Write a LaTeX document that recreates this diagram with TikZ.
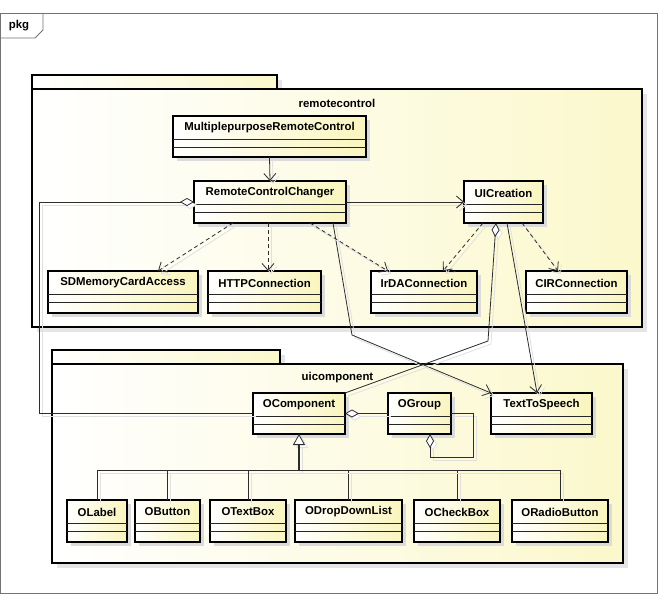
\documentclass[tikz,border=0pt]{standalone}
\usepackage{fontspec}
\setmainfont{Liberation Sans}
\usetikzlibrary{arrows.meta,shadows,calc}

\definecolor{clsyel}{RGB}{250,245,190}
\definecolor{pkgyel}{RGB}{251,248,204}
\definecolor{edgecol}{RGB}{45,45,45}

\tikzset{
  umlfont/.style={font=\bfseries\fontsize{11.4}{13}\selectfont, inner sep=0pt},
  clsbox/.style={draw=black, line width=1.5pt, left color=white, right color=clsyel,
    drop shadow={shadow xshift=4pt, shadow yshift=-4pt, fill=black!14, opacity=1},
    inner sep=0pt, outer sep=0pt},
  clssep/.style={draw=black!85, line width=0.9pt},
  pkgbox/.style={draw=black, line width=1.6pt, left color=white, right color=pkgyel,
    drop shadow={shadow xshift=5pt, shadow yshift=-5pt, fill=black!10, opacity=1},
    inner sep=0pt, outer sep=0pt},
  framebox/.style={draw=black!55, line width=0.8pt},
  link/.style={draw=edgecol, line width=0.8pt,
    preaction={draw=black!12, line width=0.8pt, transform canvas={shift={(3pt,-3pt)}}}},
  assoc/.style={link, -{Straight Barb[length=7pt,width=12pt,line width=0.8pt]}},
  dep/.style={assoc, dash pattern=on 4pt off 3pt},
  aggr/.style={link, {Diamond[fill=white,length=14pt,width=8pt,line width=0.8pt]}-},
  gen/.style={link, -{Triangle[fill=white,length=11pt,width=12pt,line width=0.8pt]}},
}

% class box: name, x1, y1, x2, y2, title
\newcommand\umlclass[6]{%
  \node[clsbox, anchor=north west, minimum width=#4-#2, minimum height=#5-#3] (#1) at (#2,#3) {};
  \draw[clssep] ($(#1.north west)+(0,23)$) -- ($(#1.north east)+(0,23)$);
  \draw[clssep] ($(#1.north west)+(0,31)$) -- ($(#1.north east)+(0,31)$);
  \node[umlfont] (#1-name) at ($(#1.north)+(0,12)$) {#6};
}

\begin{document}
\begin{tikzpicture}[x=1pt, y=-1pt]
  \useasboundingbox[fill=white] (0,0) rectangle (663,602);

  % diagram frame
  \draw[framebox] (0.5,13) rectangle (657,593);
  \draw[framebox] (0.5,38) -- (35,38) -- (43,30) -- (43,13);
  \node[umlfont] (frametag) at (19,26) {pkg};

  % package remotecontrol
  \node[pkgbox, anchor=north west, minimum width=245, minimum height=14] (rctab) at (32,75) {};
  \node[pkgbox, anchor=north west, minimum width=610, minimum height=238] (rcpkg) at (32,89) {};
  \node[umlfont] (rclabel) at (337,103) {remotecontrol};

  % package uicomponent
  \node[pkgbox, anchor=north west, minimum width=228, minimum height=14] (uitab) at (52,350) {};
  \node[pkgbox, anchor=north west, minimum width=571, minimum height=199] (uipkg) at (52,364) {};
  \node[umlfont] (uilabel) at (337.5,378) {uicomponent};

  % bend points
  \coordinate (rccleft) at (39,202);
  \coordinate (rccdown) at (352,335);
  \coordinate (uicdown) at (488,341);
  \coordinate (bus) at (299,470);

  % classes of remotecontrol
  \umlclass{mprc}{173}{116}{366}{157}{MultiplepurposeRemoteControl}
  \umlclass{rcc}{194}{181}{346}{223}{RemoteControlChanger}
  \umlclass{uic}{464}{181}{543}{223}{UICreation}
  \umlclass{sd}{48}{271}{198}{313}{SDMemoryCardAccess}
  \umlclass{http}{208}{271}{321}{313}{HTTPConnection}
  \umlclass{irda}{371}{271}{477}{313}{IrDAConnection}
  \umlclass{cir}{526}{271}{627}{313}{CIRConnection}

  % classes of uicomponent
  \umlclass{ocomp}{253}{393}{345}{434}{OComponent}
  \umlclass{ogroup}{388}{393}{451}{434}{OGroup}
  \umlclass{tts}{491}{393}{592}{434}{TextToSpeech}
  \umlclass{olabel}{67}{500}{127}{542}{OLabel}
  \umlclass{obutton}{135}{500}{200}{542}{OButton}
  \umlclass{otextbox}{210}{500}{286}{542}{OTextBox}
  \umlclass{odrop}{295}{500}{402}{542}{ODropDownList}
  \umlclass{ocheck}{414}{500}{500}{542}{OCheckBox}
  \umlclass{oradio}{512}{500}{608}{542}{ORadioButton}

  % associations
  \draw[assoc] (mprc.south) -- (rcc.north);
  \draw[assoc] (rcc.east) -- (uic.west);
  \draw[assoc] ([xshift=63pt]rcc.south) -- (rccdown) -- (tts.north west);
  \draw[assoc] ([xshift=3.5pt]uic.south) -- ([xshift=-4.5pt]tts.north);

  % dependencies
  \draw[dep] ([xshift=-37pt]rcc.south) -- ([xshift=35pt]sd.north);
  \draw[dep] ([xshift=-2pt]rcc.south) -- ([xshift=3.5pt]http.north);
  \draw[dep] ([xshift=40pt]rcc.south) -- ([xshift=-36pt]irda.north);
  \draw[dep] ([xshift=-20.5pt]uic.south) -- ([xshift=19pt]irda.north);
  \draw[dep] ([xshift=18.5pt]uic.south) -- ([xshift=-18.5pt]cir.north);

  % aggregations
  \draw[aggr] (rcc.west) -- (rccleft) |- (ocomp.west);
  \draw[aggr] ([xshift=-7.5pt]uic.south) -- (uicdown) -- (ocomp.north east);
  \draw[aggr] (ocomp.east) -- (ogroup.west);
  \draw[aggr] ([xshift=10.5pt]ogroup.south) -- ++(0,23) -| ([xshift=22pt]ogroup.east) -- (ogroup.east);

  % generalization
  \draw[gen, line width=1.3pt] (bus) -- (ocomp.south);
  \foreach \c in {olabel,obutton,otextbox,odrop,ocheck,oradio}
    \draw[link] (\c.north) |- (bus);
\end{tikzpicture}
\end{document}
